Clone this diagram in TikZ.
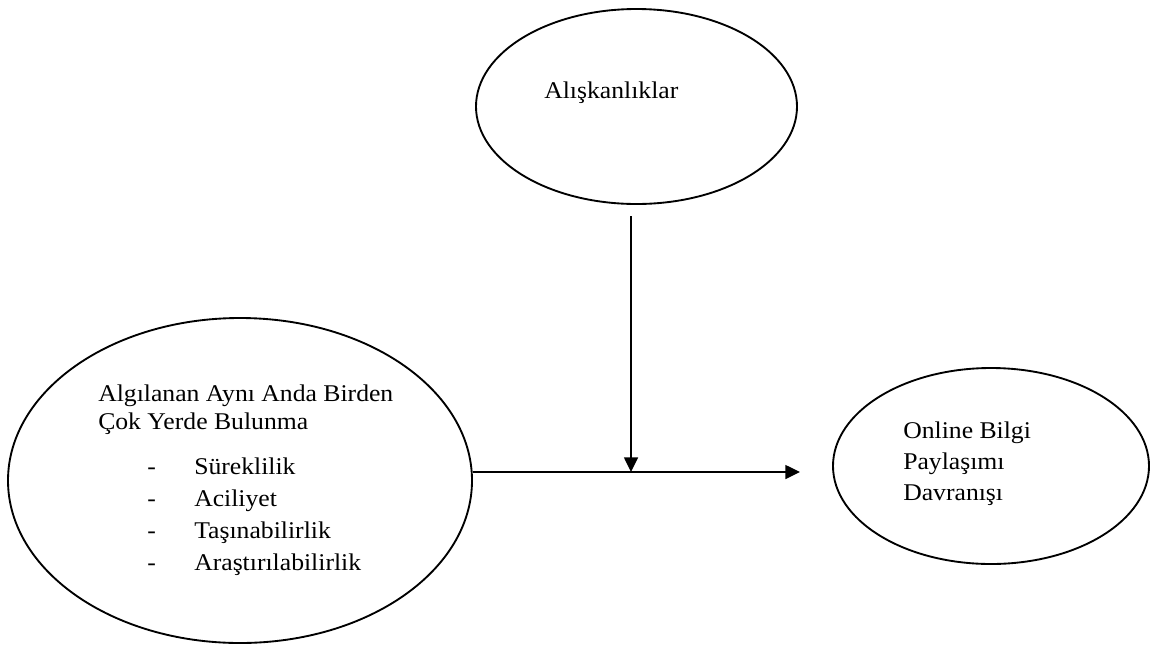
\documentclass[tikz,border=0pt]{standalone}
\usepackage{fontspec}
\setmainfont[FakeStretch=1.07]{Liberation Serif}
\usetikzlibrary{shapes.geometric,arrows.meta}
\begin{document}
\begin{tikzpicture}[
        x=0.75pt, y=-0.75pt,
        bubble/.style={
            shape=ellipse,
            draw,
            line width=1.4pt,
            inner sep=0pt
        },
        txt/.style={
            inner sep=0pt,
            align=left,
            font=\fontsize{18}{21}\selectfont
        },
        flow/.style={draw, line width=1.1pt, -{Triangle[length=11pt,width=10.5pt]}}
    ]
    \useasboundingbox (0,0) rectangle (1150,644);

    % ALISKANLIKLAR
    \node[bubble, minimum width=240.75pt, minimum height=146.25pt] (habit) at (636.5,106.5) {};
    \node[txt, anchor=base west] (habittext) at (544,98) {Alışkanlıklar};

    % AYNI ANDA BIRDEN COK YERDE BULUNMA
    \node[bubble, minimum width=348pt, minimum height=243.75pt] (ubiq) at (240,480.5) {};
    \node[txt, anchor=north west] (ubiqtext) at (98,384.3) {%
        Algılanan Aynı Anda Birden\\
        Çok Yerde Bulunma\\[12.75pt]
        \hspace*{36.75pt}\makebox[35.25pt][l]{-}Süreklilik\\[3pt]
        \hspace*{36.75pt}\makebox[35.25pt][l]{-}Aciliyet\\[3pt]
        \hspace*{36.75pt}\makebox[35.25pt][l]{-}Taşınabilirlik\\[3pt]
        \hspace*{36.75pt}\makebox[35.25pt][l]{-}Araştırılabilirlik};

    % BILGI PAYLASIMI
    \node[bubble, minimum width=237pt, minimum height=147pt] (share) at (991,466) {};
    \node[txt, anchor=north west, font=\fontsize{18}{23.25}\selectfont] (sharetext) at (903,422) {%
        Online Bilgi\\
        Paylaşımı\\
        Davranışı};

    % OKLAR
    \coordinate (vstart) at (631,216);
    \coordinate (join) at (631,472);
    \coordinate (tip) at (800,472);
    \draw[flow] (vstart) -- (join);
    \draw[flow] (ubiq.east |- tip) -- (tip);
\end{tikzpicture}
\end{document}
